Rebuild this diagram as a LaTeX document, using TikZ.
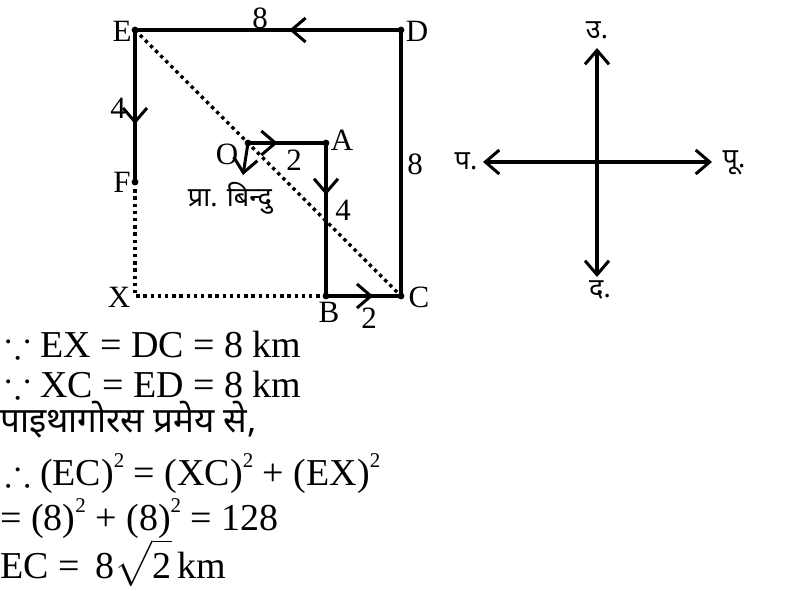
\documentclass[tikz,border=0pt]{standalone}
\usepackage{amssymb}
\usepackage{fontspec}
\setmainfont{Liberation Serif}
\newfontfamily\hindi[Script=Devanagari]{Noto Sans}
\usetikzlibrary{arrows.meta,decorations.markings}

\newcommand\sqr{\raisebox{0.46em}{\fontsize{21}{21}\selectfont 2}}

\tikzset{
  walk/.style={line width=4pt},
  gap/.style={line width=3.4pt, dash pattern=on 3.4pt off 3.8pt},
  barb/.tip={Straight Barb[length=14pt,width=24pt,line width=3pt]},
  midarrow/.style={postaction={decorate},
    decoration={markings,mark=at position #1 with {\arrow{barb}}}},
  lbl/.style={font=\fontsize{31}{36}\selectfont, inner sep=0pt},
  dlbl/.style={font=\hindi\fontsize{27}{32}\selectfont, inner sep=0pt},
  line/.style={font=\fontsize{38}{44}\selectfont, inner sep=0pt, anchor=base west},
}

\begin{document}
\begin{tikzpicture}[x=1pt,y=-1pt]
\useasboundingbox (0,0) rectangle (791,590);

% route
\coordinate (E) at (135,30);
\coordinate (D) at (401,30);
\coordinate (C) at (401,296);
\coordinate (X) at (135,296);
\coordinate (F) at (135,182);
\coordinate (B) at (326,296);
\coordinate (A) at (326,143);
\coordinate (O) at (248,143);
\coordinate (Odir) at (243,175);

\draw[gap] (E) -- (C);
\draw[gap] (F) -- (X) -- (B);
\draw[walk, midarrow=0.62] (E) -- (F);
\draw[walk, midarrow=0.42] (D) -- (E);
\draw[walk] (D) -- (C);
\draw[walk, midarrow=0.38] (O) -- (A);
\draw[walk, midarrow=0.34] (A) -- (B);
\draw[walk, midarrow=0.63] (B) -- (C);
\draw[line width=3pt, -{barb}] (O) -- (Odir);

\foreach \p in {E,D,C,F,A,O,B}
  \fill (\p) circle (3.4);

% labels
\node[lbl] (lE) at (122,31) {E};
\node[lbl] (lD) at (417,31) {D};
\node[lbl] (lED) at (260,18) {8};
\node[lbl] (lEF) at (118,108) {4};
\node[lbl] (lF) at (122,182) {F};
\node[lbl] (lO) at (227,154) {O};
\node[lbl] (lOA) at (294,160) {2};
\node[lbl] (lA) at (342,140) {A};
\node[lbl] (lAB) at (343,210) {4};
\node[lbl] (lDC) at (415,164) {8};
\node[lbl] (lX) at (119,297) {X};
\node[lbl] (lC) at (419,297) {C};
\node[lbl] (lB) at (329,312) {B};
\node[lbl] (lBC) at (369,318) {2};
\node[dlbl] (start) at (230,198) {प्रा. बिन्दु};

% compass
\coordinate (centre) at (597,162);
\coordinate (north) at (597,48);
\coordinate (south) at (597,277);
\coordinate (west) at (483,162);
\coordinate (east) at (712,162);
\draw[walk, {barb}-{barb}] (west) -- (east);
\draw[walk, {barb}-{barb}] (south) -- (north);
\node[dlbl] (lN) at (597,30) {उ.};
\node[dlbl] (lS) at (600,290) {द.};
\node[dlbl] (lW) at (466,161) {प.};
\node[dlbl] (lEast) at (734,163) {पू.};

% working
\node[line] (l1) at (5,357) {$\because$ EX = DC = 8 km};
\node[line] (l2) at (5,397) {$\because$ XC = ED = 8 km};
\node[line, font=\hindi\fontsize{35}{40}\selectfont] (l3) at (0,432) {पाइथागोरस प्रमेय से,};
\node[line] (l4) at (5,485) {$\therefore$ (EC)\sqr{} = (XC)\sqr{} + (EX)\sqr};
\node[line] (l5) at (0,530) {= (8)\sqr{} + (8)\sqr{} = 128};
\node[line] (l6) at (0,578) {EC = \,8$\sqrt{\mbox{2}}$\,km};
\end{tikzpicture}
\end{document}
